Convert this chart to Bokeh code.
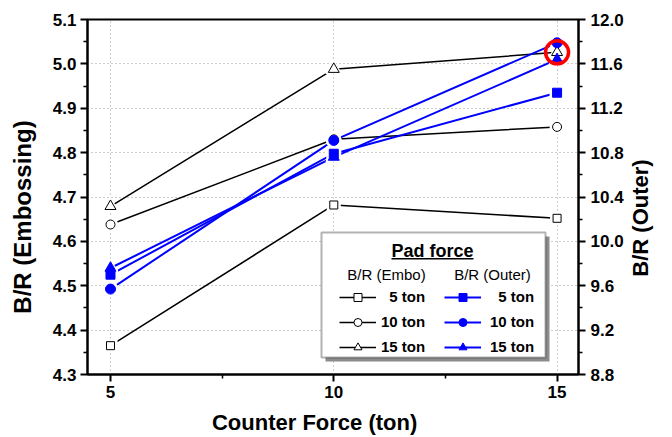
import math
from bokeh.plotting import figure
from bokeh.models import (Range1d, LinearAxis, FixedTicker, Legend, LegendItem,
                          Label, BoxAnnotation, PrintfTickFormatter)
from bokeh.embed import file_html
from bokeh.resources import INLINE

# ---------------- data ----------------
counter_force = [5, 10, 15]
embo_5ton = [4.365, 4.682, 4.652]
embo_10ton = [4.638, 4.830, 4.858]
embo_15ton = [4.679, 4.988, 5.026]
outer_5ton = [9.70, 10.79, 11.34]
outer_10ton = [9.57, 10.91, 11.79]
outer_15ton = [9.76, 10.76, 11.64]
pad_labels = ["\u20075 ton", "10 ton", "15 ton"]
x_ticks = [5, 10, 15]
x_minor = [7.5, 12.5]
left_ticks = [4.3, 4.4, 4.5, 4.6, 4.7, 4.8, 4.9, 5.0, 5.1]
right_ticks = [8.8, 9.2, 9.6, 10.0, 10.4, 10.8, 11.2, 11.6, 12.0]
highlight_x = [15]
highlight_y = [embo_15ton[2]]

FONT = "Liberation Sans"
BLUE = "#0000ff"
PAD = "\u2007"

p = figure(width=672, height=437, output_backend="svg", toolbar_location=None,
           x_range=Range1d(4.485, 15.48), y_range=Range1d(4.3, 5.1),
           min_border_left=87, min_border_right=94, min_border_top=19,
           min_border_bottom=60, background_fill_color="white",
           border_fill_color="white")
p.extra_y_ranges = {"outer": Range1d(8.8, 12.0)}
p.outline_line_color = "black"
p.outline_line_width = 2

# axes
def style_axis(ax):
    ax.axis_line_width = 2
    ax.major_tick_line_width = 2
    ax.minor_tick_line_width = 1.5
    ax.major_tick_out = 7
    ax.major_tick_in = 0
    ax.minor_tick_out = 4
    ax.minor_tick_in = 0
    ax.major_label_text_font = FONT
    ax.major_label_text_font_style = "bold"
    ax.major_label_text_font_size = "17px"
    ax.major_label_text_color = "black"
    ax.axis_label_text_font = FONT
    ax.axis_label_text_font_style = "bold"
    ax.axis_label_text_color = "black"

xa = p.xaxis[0]
xa.ticker = FixedTicker(ticks=x_ticks, minor_ticks=x_minor)
xa.formatter = PrintfTickFormatter(format="%d")
style_axis(xa)
xa.major_label_standoff = 4
xa.axis_label = "Counter Force (ton)" + PAD * 3
xa.axis_label_text_font_size = "22px"
xa.axis_label_standoff = 9

ya = p.yaxis[0]
ya.ticker = FixedTicker(ticks=left_ticks,
                        minor_ticks=[round((a + b) / 2, 3) for a, b in zip(left_ticks[:-1], left_ticks[1:])])
ya.formatter = PrintfTickFormatter(format="%.1f")
style_axis(ya)
ya.major_label_standoff = 4
ya.axis_label = "B/R (Embossing)" + PAD * 3
ya.axis_label_text_font_size = "24px"
ya.axis_label_standoff = 14

ra = LinearAxis(y_range_name="outer",
                ticker=FixedTicker(ticks=right_ticks,
                                   minor_ticks=[round((a + b) / 2, 3) for a, b in zip(right_ticks[:-1], right_ticks[1:])]),
                formatter=PrintfTickFormatter(format="%.1f"))
style_axis(ra)
ra.major_label_standoff = 5
ra.axis_label = PAD * 8 + "B/R (Outer)"
ra.axis_label_text_font_size = "22px"
ra.axis_label_standoff = 14
ra.axis_label_orientation = math.pi / 2
ra.axis_label_align = "start"
p.add_layout(ra, "right")

for g in (p.xgrid[0], p.ygrid[0]):
    g.grid_line_color = "#9a9a9a"
    g.grid_line_dash = "1 3"
    g.grid_line_width = 1

# ---------------- series ----------------
embo_series = [(embo_5ton, "square", 8), (embo_10ton, "circle", 9), (embo_15ton, "triangle", 11)]
outer_series = [(outer_5ton, "square", 9), (outer_10ton, "circle", 10), (outer_15ton, "triangle", 11)]

embo_lines, outer_lines = [], []
for ys, m, s in embo_series:
    embo_lines.append(p.line(counter_force, ys, line_color="black", line_width=1.5))
for ys, m, s in outer_series:
    outer_lines.append(p.line(counter_force, ys, line_color=BLUE, line_width=2, y_range_name="outer"))

# white halos so lines stop short of markers
for ys, m, s in embo_series:
    p.scatter(counter_force, ys, marker=m, size=s + 6, fill_color="white", line_color=None)
for ys, m, s in outer_series:
    p.scatter(counter_force, ys, marker=m, size=s + 6, fill_color="white", line_color=None,
              y_range_name="outer")

embo_marks, outer_marks = [], []
for ys, m, s in embo_series:
    embo_marks.append(p.scatter(counter_force, ys, marker=m, size=s, fill_color="white",
                                line_color="black", line_width=1))
for ys, m, s in outer_series:
    outer_marks.append(p.scatter(counter_force, ys, marker=m, size=s, fill_color=BLUE,
                                 line_color=BLUE, line_width=1, y_range_name="outer"))

# red highlight ring
p.scatter(highlight_x, highlight_y, marker="circle", size=23, fill_alpha=0,
          line_color="#ff0000", line_width=3.5)

# ---------------- legend box ----------------
shadow = BoxAnnotation(left=238, right=462, top=138, bottom=13,
                       left_units="screen", right_units="screen", top_units="screen",
                       bottom_units="screen", fill_color="#8c8c8c", fill_alpha=1,
                       line_color=None)
box = BoxAnnotation(left=234, right=458, top=142, bottom=17,
                    left_units="screen", right_units="screen", top_units="screen",
                    bottom_units="screen", fill_color="white", fill_alpha=1,
                    line_color="black", line_width=2)
p.add_layout(shadow)
p.add_layout(box)

def make_legend(lines, marks, loc, standoff):
    items = [LegendItem(label=lab, renderers=[l, mk]) for lab, l, mk in zip(pad_labels, lines, marks)]
    leg = Legend(items=items, location=loc, orientation="vertical",
                 background_fill_alpha=0, border_line_alpha=0, padding=0, margin=0,
                 spacing=5, glyph_width=37, glyph_height=20, label_height=20,
                 label_standoff=standoff, label_text_font=FONT,
                 label_text_font_style="bold", label_text_font_size="15px",
                 label_text_color="black", label_text_baseline="middle")
    return leg

p.add_layout(make_legend(embo_lines, embo_marks, (252, 17.5), 5), "center")
p.add_layout(make_legend(outer_lines, outer_marks, (357, 17.5), 9), "center")

def add_label(text, x, y, size, bold=True):
    p.add_layout(Label(x=x, y=y, x_units="screen", y_units="screen", text=text,
                       text_font=FONT, text_font_size=size,
                       text_font_style="bold" if bold else "normal",
                       text_align="center", text_baseline="middle", text_color="black"))

add_label("Pad force", 345, 124, "18px")
underline = BoxAnnotation(left=304, right=386, top=116.5, bottom=115,
                          left_units="screen", right_units="screen", top_units="screen",
                          bottom_units="screen", fill_color="black", fill_alpha=1,
                          line_color=None)
p.add_layout(underline)
add_label("B/R (Embo)", 299, 100, "15px", bold=False)
add_label("B/R (Outer)", 405, 100, "15px", bold=False)

open("out.html", "w").write(file_html(p, INLINE))
